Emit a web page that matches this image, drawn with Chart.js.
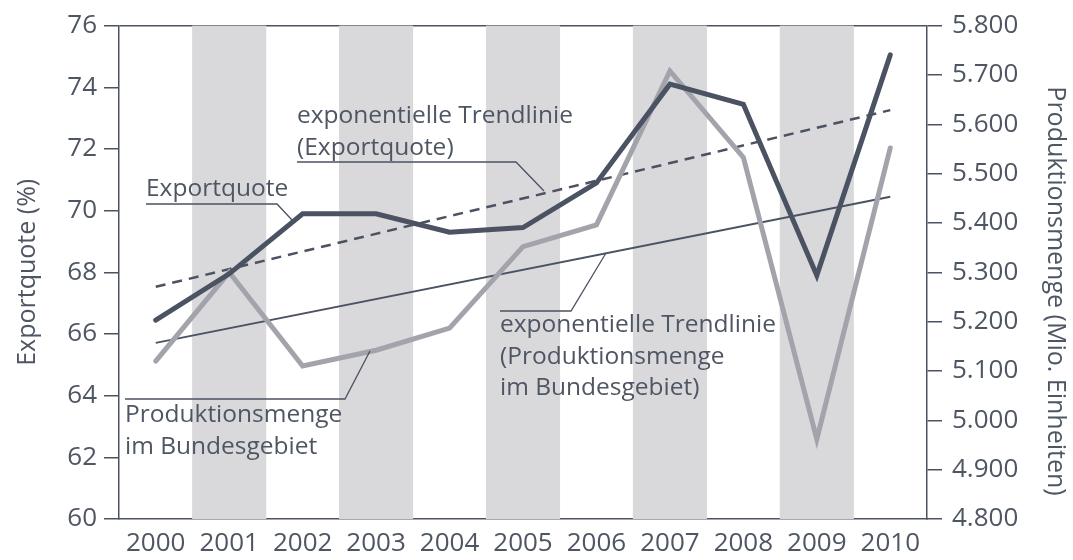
<!DOCTYPE html>
<html lang="de">
<head>
<meta charset="utf-8">
<title>Exportquote und Produktionsmenge 2000–2010</title>
<script src="https://cdn.jsdelivr.net/npm/chart.js@4.4.1/dist/chart.umd.min.js"></script>
<style>
  html, body { margin: 0; padding: 0; background: #fff; }
  canvas { display: block; }
</style>
</head>
<body>
<canvas id="grafico" width="1073" height="560"></canvas>
<script>
// Jahre
const jahre = ["2000", "2001", "2002", "2003", "2004", "2005", "2006", "2007", "2008", "2009", "2010"];
// Exportquote in % (linke Achse)
const exportquote = [66.45, 67.95, 69.9, 69.9, 69.3, 69.45, 70.9, 74.1, 73.45, 67.9, 75.05];
// Produktionsmenge im Bundesgebiet in Tsd. Einheiten (rechte Achse)
const produktionsmenge = [5120, 5300, 5110, 5142, 5187, 5352, 5396, 5708, 5533, 4962, 5552];
// exponentielle Trendlinien: Anfangs- und Endwert
const trendExportquote = [67.53, null, null, null, null, null, null, null, null, null, 73.26];
const trendProduktion = [5157, null, null, null, null, null, null, null, null, null, 5453];
// grau hinterlegte Jahre
const graueJahre = ["2001", "2003", "2005", "2007", "2009"];
// Achsenbeschriftungen
const ticksLinks = [60, 62, 64, 66, 68, 70, 72, 74, 76];
const ticksRechts = [4800, 4900, 5000, 5100, 5200, 5300, 5400, 5500, 5600, 5700, 5800];

const DUNKEL = "#4b5261";
const HELL = "#a3a3ab";
const BAND = "#d9d9dc";
const TEXT = "#4f5663";
const SCHRIFT = '"Open Sans", "Noto Sans", sans-serif';

// Beschriftungen mit Hinweislinien (Pixelpositionen im Bild)
const beschriftungen = [
  { zeilen: ["exponentielle Trendlinie", "(Exportquote)"], x: 297, y: 123,
    linie: [[297, 162], [516, 162], [544, 191]] },
  { zeilen: ["Exportquote"], x: 146, y: 196,
    linie: [[146, 204], [277, 204], [292, 220]] },
  { zeilen: ["Produktionsmenge", "im Bundesgebiet"], x: 125, y: 422,
    linie: [[125, 399], [345, 399], [370, 351]] },
  { zeilen: ["exponentielle Trendlinie", "(Produktionsmenge", "im Bundesgebiet)"], x: 500, y: 332,
    linie: [[500, 311], [571, 311], [606, 253]] },
];

const tausender = (v) => String(v).replace(/\B(?=(\d{3})+$)/g, ".");

const beschriftungPlugin = {
  id: "beschriftung",
  afterDatasetsDraw(chart) {
    const ctx = chart.ctx;
    ctx.save();
    ctx.strokeStyle = DUNKEL;
    ctx.lineWidth = 1.3;
    ctx.fillStyle = TEXT;
    ctx.font = "24.5px " + SCHRIFT;
    ctx.textAlign = "left";
    ctx.textBaseline = "alphabetic";
    beschriftungen.forEach((b) => {
      ctx.beginPath();
      b.linie.forEach(([x, y], i) => (i === 0 ? ctx.moveTo(x, y) : ctx.lineTo(x, y)));
      ctx.stroke();
      b.zeilen.forEach((z, i) => ctx.fillText(z, b.x, b.y + i * 31.5));
    });
    // Titel der rechten Achse
    ctx.font = "25px " + SCHRIFT;
    ctx.textAlign = "center";
    ctx.textBaseline = "middle";
    ctx.translate(chart.width - 18, 291);
    ctx.rotate(Math.PI / 2);
    ctx.fillText("Produktionsmenge (Mio. Einheiten)", 0, 0);
    ctx.restore();
  },
};

new Chart(document.getElementById("grafico"), {
  type: "line",
  data: {
    labels: jahre,
    datasets: [
      {
        type: "bar",
        label: "Hintergrund",
        data: jahre.map((j) => (graueJahre.includes(j) ? 76 : null)),
        backgroundColor: BAND,
        borderWidth: 0,
        barPercentage: 1,
        categoryPercentage: 1,
        yAxisID: "y",
        order: 10,
      },
      {
        label: "exponentielle Trendlinie (Exportquote)",
        data: trendExportquote,
        borderColor: DUNKEL,
        borderWidth: 2.5,
        borderDash: [10, 7],
        spanGaps: true,
        pointRadius: 0,
        yAxisID: "y",
        order: 5,
      },
      {
        label: "exponentielle Trendlinie (Produktionsmenge im Bundesgebiet)",
        data: trendProduktion,
        borderColor: DUNKEL,
        borderWidth: 2,
        spanGaps: true,
        pointRadius: 0,
        yAxisID: "y1",
        order: 4,
      },
      {
        label: "Produktionsmenge im Bundesgebiet",
        data: produktionsmenge,
        borderColor: HELL,
        borderWidth: 5,
        borderJoinStyle: "miter",
        borderCapStyle: "round",
        pointRadius: 0,
        tension: 0,
        yAxisID: "y1",
        order: 2,
      },
      {
        label: "Exportquote",
        data: exportquote,
        borderColor: DUNKEL,
        borderWidth: 5,
        borderJoinStyle: "miter",
        borderCapStyle: "round",
        pointRadius: 0,
        tension: 0,
        yAxisID: "y",
        order: 1,
      },
    ],
  },
  options: {
    responsive: false,
    devicePixelRatio: 1,
    animation: false,
    layout: { padding: { top: 22, left: 0, right: 0, bottom: 0 } },
    plugins: {
      legend: { display: false },
      tooltip: { enabled: false },
    },
    scales: {
      x: {
        offset: true,
        grid: { display: false },
        border: { display: true, color: DUNKEL, width: 1.5 },
        ticks: { color: TEXT, font: { family: SCHRIFT, size: 26 }, padding: 1, maxRotation: 0, autoSkip: false },
        afterFit: (s) => { s.height = 41; },
      },
      y: {
        position: "left",
        min: 60,
        max: 76,
        afterBuildTicks: (s) => { s.ticks = ticksLinks.map((v) => ({ value: v })); },
        grid: {
          drawOnChartArea: true,
          color: (c) => (c.tick && c.tick.value === 76 ? DUNKEL : "rgba(0,0,0,0)"),
          tickColor: DUNKEL,
          tickLength: 15,
          lineWidth: 1.5,
        },
        border: { display: true, color: DUNKEL, width: 1.5 },
        ticks: { color: TEXT, font: { family: SCHRIFT, size: 26 }, padding: 7 },
        title: { display: true, text: "Exportquote (%)", color: TEXT, font: { family: SCHRIFT, size: 25 }, padding: { top: 13, bottom: 0 } },
        afterFit: (s) => { s.width = 119; },
      },
      y1: {
        position: "right",
        min: 4800,
        max: 5800,
        afterBuildTicks: (s) => { s.ticks = ticksRechts.map((v) => ({ value: v })); },
        grid: { drawOnChartArea: false, tickColor: DUNKEL, tickLength: 15, lineWidth: 1.5 },
        border: { display: true, color: DUNKEL, width: 1.5 },
        ticks: { color: TEXT, font: { family: SCHRIFT, size: 26 }, padding: 10, callback: (v) => tausender(v) },
        afterFit: (s) => { s.width = 146; },
      },
    },
  },
  plugins: [beschriftungPlugin],
});
</script>
</body>
</html>
